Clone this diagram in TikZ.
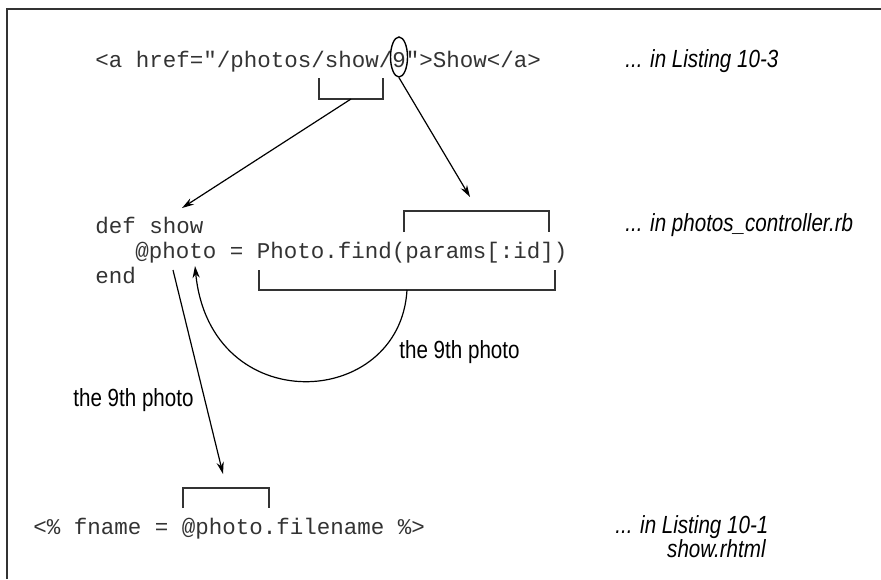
\documentclass[tikz,border=0pt]{standalone}
\usepackage{fontspec}
\setmonofont{Liberation Mono}
\newfontfamily\notefont[FakeStretch=0.83]{Liberation Sans}
\usepackage{tikz}
\usetikzlibrary{shapes.geometric, arrows.meta, positioning}
\tikzstyle{codeline} = [
  anchor=base west, inner sep=0, text=black!80,
  font=\ttfamily\fontsize{11.25}{12}\selectfont
]
\tikzstyle{note} = [anchor=base west, inner sep=0, font=\notefont\itshape\fontsize{12.4}{12}\selectfont]
\tikzstyle{tag} = [anchor=base west, inner sep=0, font=\notefont\fontsize{12.4}{12}\selectfont]
\tikzstyle{arrow} = [-{Stealth[length=6pt, width=3.6pt]}, line width=0.6pt]
\tikzstyle{bracket} = [line width=0.8pt, black!80]
\tikzstyle{frame} = [line width=1pt, black!80]

\begin{document}
\begin{tikzpicture}[x=0.5pt, y=-0.5pt]
  \useasboundingbox (0,0) rectangle (881,579);

  % Frame
  \draw[frame] (7,579) -- (7,9) -- (881,9);

  % Code lines
  \node[codeline] (link) at (95, 67) {<a href="/photos/show/9">Show</a>};
  \node[codeline] (defshow) at (95, 233) {def show};
  \node[codeline] (assign) at (135, 258) {@photo = Photo.find(params[:id])};
  \node[codeline] (endkw) at (95, 283) {end};
  \node[codeline] (fname) at (33, 534) {<\% fname = @photo.filename \%>};

  % Where each line lives
  \node[note] (src1) at (625, 67) {... in Listing 10-3};
  \node[note] (src2) at (625, 231) {... in photos\_controller.rb};
  \node[note] (src3) at (615, 533) {... in Listing 10-1};
  \node[note, anchor=base east] (src4) at (766, 557) {show.rhtml};

  % Marks
  \node[draw, ellipse, line width=0.7pt, minimum width=8.5pt, minimum height=20pt, inner sep=0] (nine) at (399, 57) {};
  \draw[bracket] (319, 78) -- (319, 99) -- (383, 99) -- (383, 78);
  \draw[bracket] (404, 232) -- (404, 211) -- (549, 211) -- (549, 232);
  \draw[bracket] (259, 270) -- (259, 290) -- (555, 290) -- (555, 270);
  \draw[bracket] (183, 508) -- (183, 488) -- (269, 488) -- (269, 508);

  \coordinate (showbr) at (351, 99);
  \coordinate (defin) at (182, 208);
  \coordinate (idin) at (470, 197);
  \coordinate (findbr) at (407, 290);
  \coordinate (photoin) at (195, 266);
  \coordinate (photoout) at (173, 270);
  \coordinate (fnamein) at (223, 474);

  % Arrows
  \draw[arrow] (showbr) -- (defin);
  \draw[arrow] (nine.south) -- (idin);
  \draw[arrow] (findbr) .. controls (400, 410) and (210, 420) .. (photoin);
  \draw[arrow] (photoout) -- (fnamein);

  \node[tag] (lbl1) at (399, 358) {the 9th photo};
  \node[tag] (lbl2) at (73, 406) {the 9th photo};

\end{tikzpicture}
\end{document}
